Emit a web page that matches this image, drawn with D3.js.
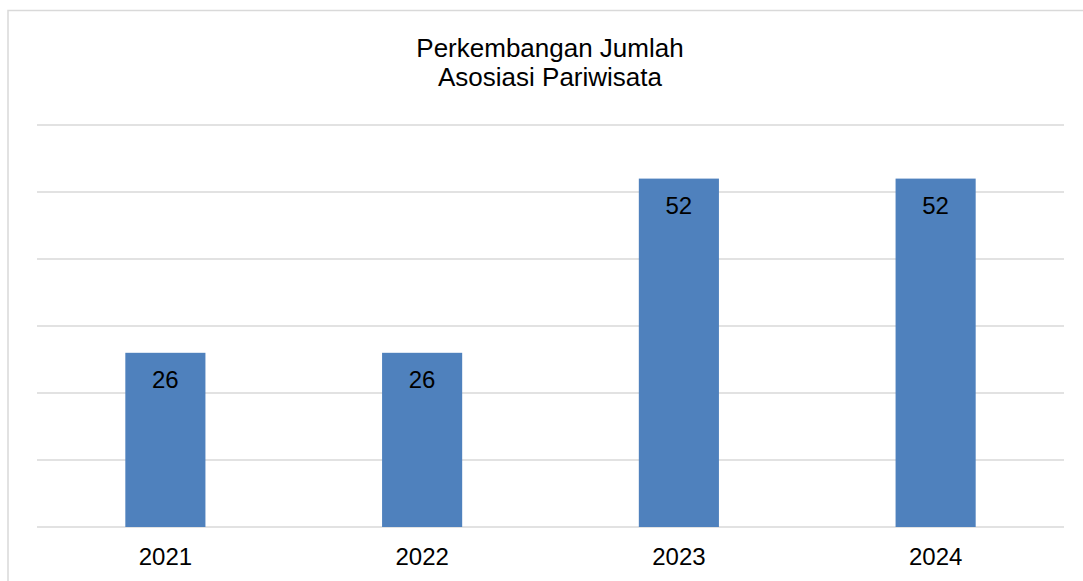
<!DOCTYPE html>
<html>
<head>
<meta charset="utf-8">
<script src="https://cdn.jsdelivr.net/npm/d3@7"></script>
<style>
  body { margin: 0; background: #fff; }
  text { font-family: "Liberation Sans", Arial, sans-serif; fill: #000; }
</style>
</head>
<body>
<div id="chart"></div>
<script>
// chart data
const years = ["2021", "2022", "2023", "2024"];
const jumlah = [26, 26, 52, 52];
const gridTicks = [0, 10, 20, 30, 40, 50, 60];
const titleLines = ["Perkembangan Jumlah", "Asosiasi Pariwisata"];

const W = 1083, H = 581;
const plot = { left: 37, right: 1064, top: 125, bottom: 527 };

const svg = d3
  .select("#chart")
  .append("svg")
  .attr("width", W)
  .attr("height", H);

// outer frame (only top and left show in the window)
svg
  .append("rect")
  .attr("x", 8)
  .attr("y", 10.5)
  .attr("width", W + 20)
  .attr("height", H + 20)
  .attr("fill", "none")
  .attr("stroke", "#d9d9d9")
  .attr("stroke-width", 1.5);

const x = d3
  .scaleBand()
  .domain(years)
  .range([plot.left, plot.right])
  .paddingInner(0.688)
  .paddingOuter(0.344);

const y = d3.scaleLinear().domain([0, 60]).range([plot.bottom, plot.top]);

// gridlines
svg
  .append("g")
  .selectAll("line")
  .data(gridTicks)
  .enter()
  .append("line")
  .attr("x1", plot.left)
  .attr("x2", plot.right)
  .attr("y1", (d) => y(d))
  .attr("y2", (d) => y(d))
  .attr("stroke", "#d9d9d9")
  .attr("stroke-width", 1.5);

// bars
svg
  .append("g")
  .selectAll("rect")
  .data(jumlah)
  .enter()
  .append("rect")
  .attr("x", (d, i) => x(years[i]))
  .attr("y", (d) => y(d))
  .attr("width", x.bandwidth())
  .attr("height", (d) => y(0) - y(d))
  .attr("fill", "#4f81bd");

// value labels inside top of bars
svg
  .append("g")
  .selectAll("text")
  .data(jumlah)
  .enter()
  .append("text")
  .attr("x", (d, i) => x(years[i]) + x.bandwidth() / 2)
  .attr("y", (d) => y(d) + 35)
  .attr("text-anchor", "middle")
  .style("font-size", "24px")
  .text((d) => d);

// category axis labels
const xAxis = svg
  .append("g")
  .attr("transform", "translate(0," + plot.bottom + ")")
  .call(d3.axisBottom(x).tickSize(0).tickPadding(0));
xAxis.select(".domain").remove();
xAxis
  .selectAll("text")
  .attr("dy", null)
  .attr("y", 38)
  .style("font-size", "24px")
  .style("font-family", '"Liberation Sans", Arial, sans-serif')
  .attr("fill", "#000");

// title
svg
  .append("g")
  .selectAll("text")
  .data(titleLines)
  .enter()
  .append("text")
  .attr("x", 550)
  .attr("y", (d, i) => 57 + i * 29)
  .attr("text-anchor", "middle")
  .style("font-size", "26px")
  .text((d) => d);
</script>
</body>
</html>
